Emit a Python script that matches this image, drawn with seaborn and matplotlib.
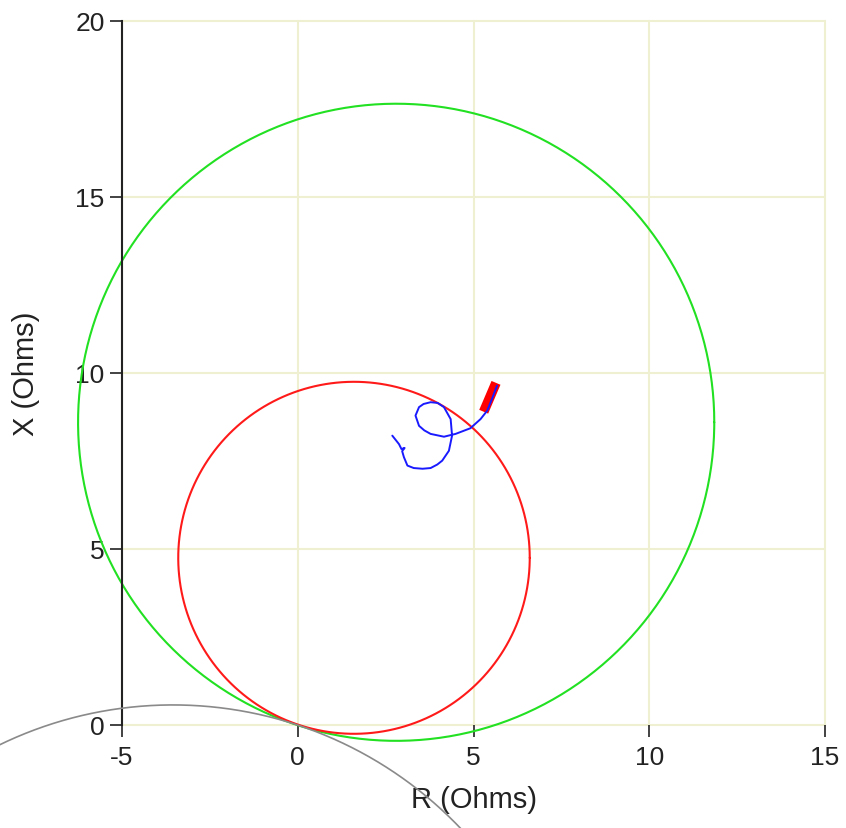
import numpy as np
import matplotlib
matplotlib.use("Agg")
import matplotlib.pyplot as plt
import seaborn as sns

# relay characteristic circles (centre R, centre X, radius), ohms
green_circle = (2.8, 8.6, 9.05)
red_circle = (1.6, 4.75, 5.0)
# grey load arc: centre and radius, with the visible angle span (deg)
grey_arc = (-3.55, -10.73, 11.3)
grey_span = (128, 33)

# apparent impedance trajectory
traj_r = [2.69, 2.88, 2.95, 3.04, 2.97, 3.02, 3.07, 3.12, 3.30, 3.55, 3.78, 3.97,
          4.11, 4.30, 4.39, 4.35, 4.16, 3.98, 3.78, 3.58, 3.45, 3.35, 3.45, 3.60,
          3.78, 4.16, 4.49, 4.91, 5.20, 5.39, 5.52, 5.67]
traj_x = [8.22, 7.98, 7.84, 7.87, 7.78, 7.61, 7.49, 7.37, 7.30, 7.28, 7.30, 7.40,
          7.51, 7.79, 8.22, 8.69, 9.03, 9.15, 9.17, 9.12, 9.03, 8.79, 8.50, 8.37,
          8.27, 8.19, 8.27, 8.43, 8.69, 8.93, 9.25, 9.64]
# final settled points (red cluster)
final_r = [5.29, 5.64]
final_x = [8.90, 9.72]

x_ticks = [-5, 0, 5, 10, 15]
y_ticks = [0, 5, 10, 15, 20]


def circle(cx, cy, r, a0=0, a1=360):
    t = np.radians(np.linspace(a0, a1, 400))
    return cx + r * np.cos(t), cy + r * np.sin(t)


sns.set_style("white")
plt.rcParams["font.family"] = ["Liberation Sans", "DejaVu Sans"]
plt.rcParams["axes.unicode_minus"] = False

fig = plt.figure(figsize=(8.46, 8.29), dpi=100)
ax = fig.add_axes([122 / 846, 103 / 829, 703 / 846, 704 / 829])

grid_c = "#efefd2"
for v in x_ticks:
    ax.axvline(v, color=grid_c, lw=1.5, zorder=0)
for v in y_ticks:
    ax.axhline(v, color=grid_c, lw=1.5, zorder=0)

gx, gy = circle(*green_circle)
sns.lineplot(x=gx, y=gy, sort=False, estimator=None, color="#22e022", lw=1.5, ax=ax)
rx, ry = circle(*red_circle)
sns.lineplot(x=rx, y=ry, sort=False, estimator=None, color="#ff1a1a", lw=1.5, ax=ax)
ax_, ay_ = circle(*grey_arc, *grey_span)
sns.lineplot(x=ax_, y=ay_, sort=False, estimator=None, color="#8a8a8a", lw=1.2, ax=ax)
sns.lineplot(x=final_r, y=final_x, sort=False, estimator=None, color="#ff0000",
             lw=7, solid_capstyle="butt", ax=ax)
sns.lineplot(x=traj_r, y=traj_x, sort=False, estimator=None, color="#1a1aff", lw=1.4, ax=ax)

for ln in ax.lines:
    ln.set_clip_on(False)
ax.lines[-3].set_zorder(5)

ax.set_xlim(-5, 15)
ax.set_ylim(0, 20)
ax.set_xticks(x_ticks)
ax.set_yticks(y_ticks)
ax.tick_params(axis="both", labelsize=19, colors="#222222", length=8.5, width=1.2,
               direction="out")
ax.tick_params(axis="x", bottom=True, pad=6)
ax.tick_params(axis="y", left=True, pad=4)
for s in ["top", "right", "bottom"]:
    ax.spines[s].set_visible(False)
ax.spines["left"].set_color("#222222")
ax.spines["left"].set_linewidth(1.5)

ax.set_xlabel("R (Ohms)", fontsize=21, color="#222222")
ax.set_ylabel("X (Ohms)", fontsize=21, color="#222222")
ax.xaxis.set_label_coords(0.5, -0.085)
ax.yaxis.set_label_coords(-0.117, 0.5)

fig.savefig("out.png", dpi=100)
